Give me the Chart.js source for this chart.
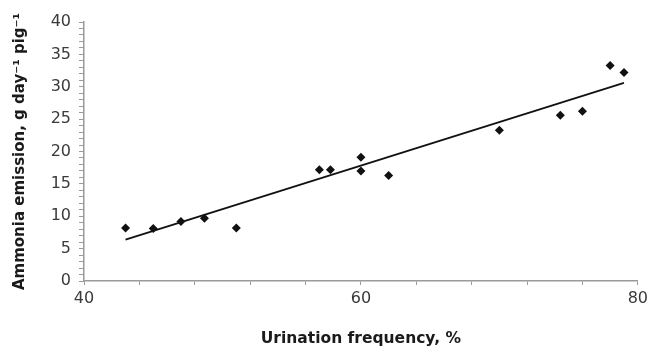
<!DOCTYPE html>
<html>
<head>
<meta charset="utf-8">
<script src="https://cdn.jsdelivr.net/npm/chart.js@4"></script>
<style>
  html, body { margin: 0; padding: 0; background: #fff; }
  #wrap { width: 652px; height: 352px; }
</style>
</head>
<body>
<div id="wrap"><canvas id="chart" width="652" height="352"></canvas></div>
<script>
// ข้อมูลจุด (อ่านค่าจากภาพ)
const urinationFreq = [43, 45, 47, 48.7, 51, 57, 57.8, 60, 60, 62, 70, 74.4, 76, 78, 79];
const ammoniaEmission = [8.2, 8.1, 9.2, 9.7, 8.2, 17.2, 17.2, 19.1, 17.0, 16.3, 23.3, 25.6, 26.2, 33.3, 32.2];

// เส้นแนวโน้ม (ปลายทั้งสองข้างอ่านจากภาพ)
const trendX = [43, 79];
const trendY = [6.4, 30.6];

// ป้ายแกน
const xLabelTicks = [40, 60, 80];
const yLabelStep = 5;

const AXIS_GREY = '#9a9a9a';
const TEXT_COLOR = '#3a3a3a';
Chart.defaults.font.family = "'DejaVu Sans', sans-serif";

new Chart(document.getElementById('chart'), {
  type: 'scatter',
  data: {
    datasets: [
      {
        label: 'data',
        data: urinationFreq.map((x, i) => ({ x, y: ammoniaEmission[i] })),
        pointStyle: 'rectRot',
        pointRadius: 4.5,
        backgroundColor: '#111',
        borderColor: '#111',
        borderWidth: 0
      },
      {
        label: 'trend',
        data: trendX.map((x, i) => ({ x, y: trendY[i] })),
        showLine: true,
        pointRadius: 0,
        borderColor: '#111',
        borderWidth: 1.8
      }
    ]
  },
  options: {
    responsive: false,
    animation: false,
    layout: { padding: { top: 22, right: 10, left: 0, bottom: 0 } },
    plugins: { legend: { display: false }, tooltip: { enabled: false } },
    scales: {
      x: {
        type: 'linear',
        min: 40, max: 80,
        ticks: {
          stepSize: 4,
          autoSkip: false,
          maxRotation: 0,
          padding: 4,
          color: TEXT_COLOR,
          font: { size: 16 },
          callback: v => xLabelTicks.includes(v) ? v : ''
        },
        grid: { drawOnChartArea: false, tickLength: 4, color: AXIS_GREY },
        border: { color: AXIS_GREY, width: 1.5 },
        title: {
          display: true,
          text: 'Urination frequency, %',
          color: '#1a1a1a',
          font: { size: 15.5, weight: 'bold' },
          padding: { top: 11 }
        },
        afterFit: s => { s.height = 71; }
      },
      y: {
        min: 0, max: 40,
        ticks: {
          stepSize: 1,
          maxTicksLimit: 100,
          autoSkip: false,
          padding: 8,
          color: TEXT_COLOR,
          font: { size: 16 },
          callback: v => v % yLabelStep === 0 ? v : ''
        },
        grid: { drawOnChartArea: false, tickLength: 5, color: AXIS_GREY },
        border: { color: AXIS_GREY, width: 1.5 },
        title: {
          display: true,
          text: 'Ammonia emission, g day\u207B\u00B9 pig\u207B\u00B9',
          color: '#1a1a1a',
          font: { size: 15, weight: 'bold' },
          padding: { top: 11, bottom: 4 }
        },
        afterFit: s => { s.width = 84; }
      }
    }
  }
});
</script>
</body>
</html>
